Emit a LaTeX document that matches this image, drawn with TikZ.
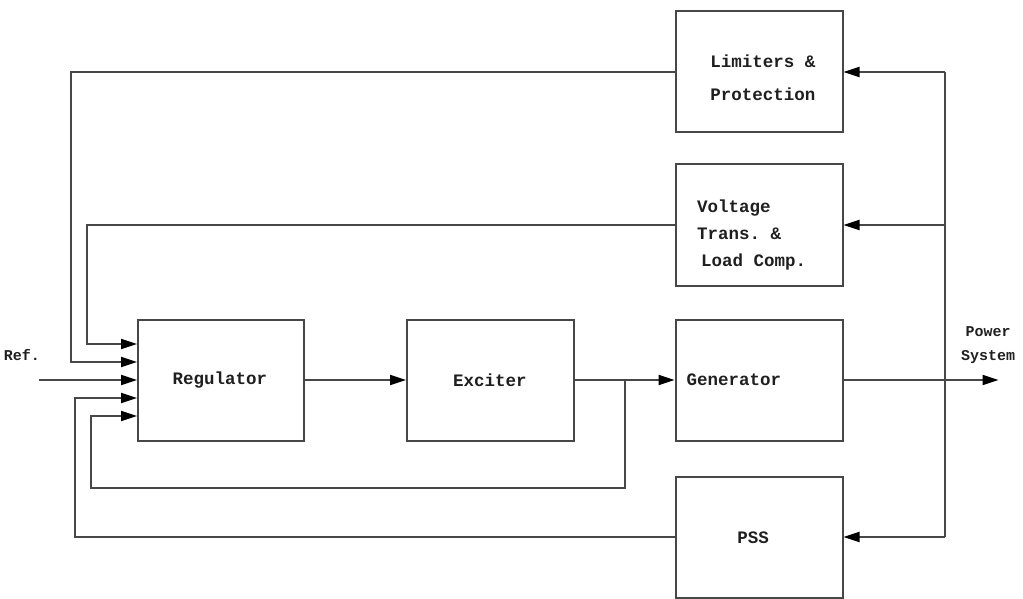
\documentclass[tikz,border=0pt]{standalone}
\usepackage{fontspec}
\setmonofont{Liberation Mono}
\usetikzlibrary{arrows.meta,calc}
\begin{document}
\begin{tikzpicture}[x=1pt,y=-1pt,
  wire/.style={line width=2pt,draw=black!72},
  arr/.style={wire,-{Triangle[length=16pt,width=10pt,fill=black,color=black]}},
  blk/.style={draw=black!72,line width=2pt,minimum width=167pt,minimum height=121pt,inner sep=0pt},
  txt/.style={font=\fontsize{17.5}{27}\selectfont\ttfamily\bfseries,text=black!88,inner sep=0pt},
  sml/.style={font=\fontsize{15}{24}\selectfont\ttfamily\bfseries,text=black!88,inner sep=0pt,align=center}]
\useasboundingbox (0,0) rectangle (1023,599);
% blocks
\node[blk] (lim) at (759,72) {};
\node[blk] (volt) at (759,225) {};
\node[blk,minimum width=166pt] (reg) at (221,380) {};
\node[blk] (exc) at (490.5,380) {};
\node[blk] (gen) at (759,380) {};
\node[blk] (pss) at (759,537) {};
% texts
\node[txt,align=left,font=\fontsize{17.5}{33}\selectfont\ttfamily\bfseries] (limt) at (763,78) {Limiters \&\\Protection};
\node[txt,align=left,anchor=west] (voltt) at (697,235) {Voltage\\Trans. \&\\\hspace{4pt}Load Comp.};
\node[txt] (regt) at (220,380) {Regulator};
\node[txt] (exct) at (490,380) {Exciter};
\node[txt] (gent) at (734,380) {Generator};
\node[txt] (psst) at (753,538) {PSS};
\node[sml] (reft) at (22,355) {Ref.};
\node[sml] (pst) at (988,345) {Power\\System};
% regulator inputs
\coordinate (in1) at ($(reg.west)+(0,-36)$);
\coordinate (in2) at ($(reg.west)+(0,-18)$);
\coordinate (in3) at (reg.west);
\coordinate (in4) at ($(reg.west)+(0,18)$);
\coordinate (in5) at ($(reg.west)+(0,36)$);
\coordinate (c1) at ($(in1)+(-50,0)$);
\coordinate (c2) at ($(in2)+(-66,0)$);
\coordinate (c4) at ($(in4)+(-62,0)$);
\coordinate (c5) at ($(in5)+(-46,72)$);
\coordinate (ref) at ($(in3)+(-98,0)$);
\coordinate (j) at ($(exc.east)!0.5!(gen.west)$);
\coordinate (bt) at ($(lim.east)+(101,0)$);
\coordinate (bb) at ($(pss.east)+(101,0)$);
\coordinate (ps) at ($(gen.east)+(155,0)$);
% connectors
\draw[arr] (lim.west) -| (c2) -- (in2);
\draw[arr] (volt.west) -| (c1) -- (in1);
\draw[arr] (ref) -- (in3);
\draw[arr] (pss.west) -| (c4) -- (in4);
\draw[arr] (j) |- (c5) |- (in5);
\draw[arr] (reg.east) -- (exc.west);
\draw[arr] (exc.east) -- (gen.west);
\draw[arr] (gen.east) -- (ps);
\draw[wire] (bt) -- (bb);
\draw[arr] (bt) -- (lim.east);
\draw[arr] (volt.east -| bt) -- (volt.east);
\draw[arr] (bb) -- (pss.east);
\end{tikzpicture}
\end{document}
